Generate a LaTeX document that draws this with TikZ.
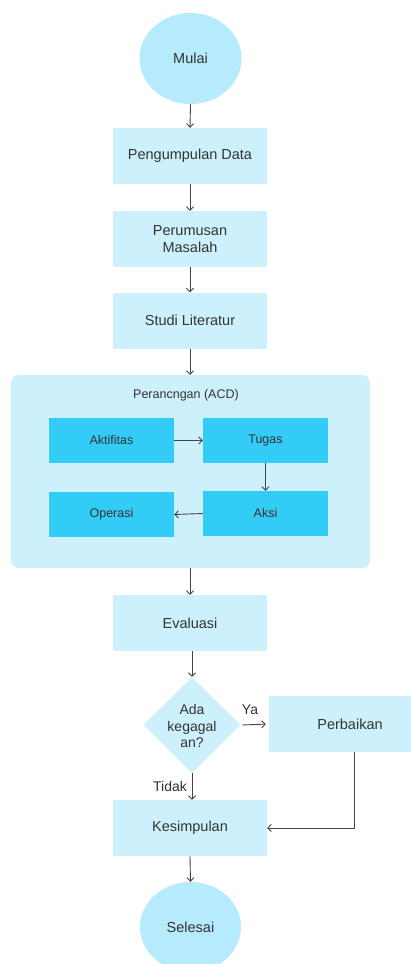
\documentclass[tikz,border=0pt]{standalone}
\usepackage{fontspec}
\setmainfont{Liberation Sans}
\usetikzlibrary{shapes.geometric,arrows.meta,positioning}
\definecolor{boxc}{HTML}{CCF1FC}
\definecolor{circc}{HTML}{B5EBFC}
\definecolor{innerc}{HTML}{33CCF7}
\definecolor{txtc}{HTML}{333333}
\definecolor{arrc}{HTML}{444444}
\tikzset{
  mainbox/.style={rectangle, fill=boxc, draw=none, minimum width=154pt, minimum height=56pt, inner sep=0pt, align=center, text=txtc, font=\fontsize{14.5}{17}\selectfont},
  innerbox/.style={rectangle, fill=innerc, draw=none, minimum width=125pt, minimum height=45pt, inner sep=0pt, text=txtc, font=\fontsize{12.5}{15}\selectfont},
  term/.style={ellipse, fill=circc, draw=none, minimum width=102pt, minimum height=91pt, inner sep=0pt, text=txtc, font=\fontsize{14.5}{17}\selectfont},
  dia/.style={diamond, fill=boxc, draw=none, minimum width=97pt, minimum height=96pt, inner sep=0pt},
  lbl/.style={text=txtc, font=\fontsize{14}{17}\selectfont, inner sep=0pt},
  conn/.style={draw=arrc, line width=0.9pt, -{Straight Barb[length=3.5pt,width=7pt]}},
}
\begin{document}
\begin{tikzpicture}[x=1pt,y=-1pt]
\clip (0,0) rectangle (411,964);
\fill[white] (0,0) rectangle (411,964);
% container
\node[rectangle, rounded corners=8pt, fill=boxc, minimum width=359pt, minimum height=193pt, inner sep=0pt] (cont) at (190.5,471.5) {};
\node[lbl, font=\fontsize{12.5}{15}\selectfont] (ctitle) at (186,395) {Perancngan (ACD)};
% main nodes
\node[term] (mulai) at (190.5,58.5) {Mulai};
\node[mainbox] (pd) at (190,156) {Pengumpulan Data};
\node[mainbox] (pm) at (190,239) {Perumusan\\Masalah};
\node[mainbox] (sl) at (190,320.5) {Studi Literatur};
\node[innerbox] (akt) at (111.5,440.5) {Aktifitas};
\node[innerbox] (tug) at (265.5,440.5) {Tugas};
\node[innerbox] (op) at (111.5,514.5) {Operasi};
\node[innerbox] (aks) at (265.5,513.5) {Aksi};
\node[mainbox] (ev) at (190,623) {Evaluasi};
\node[dia] (d) at (192,725) {};
\node[lbl, align=center, font=\fontsize{14}{16.5}\selectfont] (dt) at (192,726) {Ada\\kegagal\\an?};
\node[mainbox, minimum width=162pt] (perb) at (350,724) {Perbaikan};
\node[mainbox] (kes) at (190,828) {Kesimpulan};
\node[term, minimum width=101pt, minimum height=90pt] (sel) at (190.5,927) {Selesai};
% labels
\node[lbl] (ya) at (250,710) {Ya};
\node[lbl] (tidak) at (170,786) {Tidak};
% connectors
\draw[conn] (mulai.south) -- (pd.north);
\draw[conn] (pd.south) -- (pm.north);
\draw[conn] (pm.south) -- (sl.north);
\draw[conn] (sl.south) -- (cont.north -| sl.south);
\draw[conn] (akt.east) -- (tug.west);
\draw[conn] (tug.south) -- (aks.north);
\draw[conn] (aks.west) -- (op.east);
\draw[conn] (cont.south -| ev.north) -- (ev.north);
\draw[conn] (ev.south -| d.north) -- (d.north);
\draw[conn, shorten <=2pt, shorten >=3pt] (d.east) -- (perb.west);
\draw[conn] (d.south) -- (kes.north -| d.south);
\draw[conn] ([xshift=4pt]perb.south) |- (kes.east);
\draw[conn] (kes.south) -- (sel.north);
\end{tikzpicture}
\end{document}
